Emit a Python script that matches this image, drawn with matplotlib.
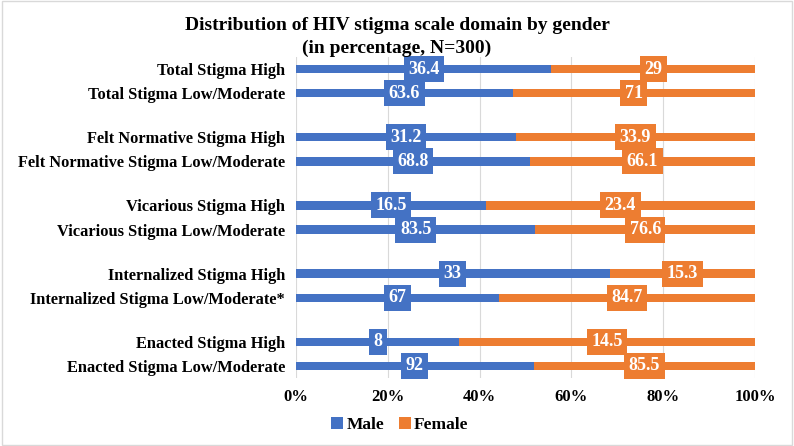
import matplotlib
matplotlib.use("Agg")
import matplotlib.pyplot as plt
import numpy as np

categories = [
    "Total Stigma High", "Total Stigma Low/Moderate",
    "Felt Normative Stigma High", "Felt Normative Stigma Low/Moderate",
    "Vicarious Stigma High", "Vicarious Stigma Low/Moderate",
    "Internalized Stigma High", "Internalized Stigma Low/Moderate*",
    "Enacted Stigma High", "Enacted Stigma Low/Moderate",
]
male = [36.4, 63.6, 31.2, 68.8, 16.5, 83.5, 33, 67, 8, 92]
female = [29, 71, 33.9, 66.1, 23.4, 76.6, 15.3, 84.7, 14.5, 85.5]
xticks = [0, 20, 40, 60, 80, 100]
xticklabels = ["0%", "20%", "40%", "60%", "80%", "100%"]

plt.rcParams['font.family'] = ['Liberation Serif', 'DejaVu Serif']
blue = "#4472C4"
orange = "#ED7D31"

fig = plt.figure(figsize=(7.94, 4.46), dpi=100)
ax = fig.add_axes([296/794, 1-378/446, (755-296)/794, (378-57)/446])

m = np.array(male, float)
f = np.array(female, float)
tot = m + f
mp = m / tot * 100
fp = f / tot * 100

ypos = np.array([(i // 2) * 2.83 + (i % 2) for i in range(len(categories))])

ax.barh(ypos, mp, height=0.35, color=blue, label="Male", zorder=3)
ax.barh(ypos, fp, left=mp, height=0.35, color=orange, label="Female", zorder=3)

def fmt(v):
    return f"{v:g}"

for y, a, b, mv, fv in zip(ypos, mp, fp, m, f):
    ax.text(a / 2, y, fmt(mv), ha="center", va="center", color="white",
            fontsize=13, fontweight="bold", zorder=5,
            bbox=dict(boxstyle="square,pad=0.25", fc=blue, ec="none"))
    ax.text(a + b / 2, y, fmt(fv), ha="center", va="center", color="white",
            fontsize=13, fontweight="bold", zorder=5,
            bbox=dict(boxstyle="square,pad=0.25", fc=orange, ec="none"))

ax.set_xlim(0, 100)
ax.set_ylim(ypos[-1] + 0.5, ypos[0] - 0.5)
ax.set_yticks(ypos)
ax.set_yticklabels(categories, fontsize=11.8, fontweight="bold")
ax.set_xticks(xticks)
ax.set_xticklabels(xticklabels, fontsize=12, fontweight="bold")
ax.tick_params(axis="both", length=0, pad=8)
ax.grid(axis="x", color="#D9D9D9", linewidth=0.8, zorder=0)
for s in ax.spines.values():
    s.set_visible(False)

fig.text(0.5, 1-25/446, "Distribution of HIV stigma scale domain by gender",
         ha="center", va="center", fontsize=14, fontweight="bold")
fig.text(0.5, 1-48/446, "(in percentage, N=300)",
         ha="center", va="center", fontsize=14, fontweight="bold")

handles, labels = ax.get_legend_handles_labels()
fig.legend(handles, labels, loc="center", bbox_to_anchor=(400/794, 1-425/446), ncol=2,
           frameon=False, prop={"weight": "bold", "size": 12.5},
           handlelength=0.7, handleheight=0.7, handletextpad=0.2, columnspacing=0.8)

fig.patches.append(plt.Rectangle((0.002, 0.003), 0.996, 0.994, transform=fig.transFigure,
                                 fill=False, ec="#D9D9D9", lw=1))
fig.savefig("out.png", dpi=100)
